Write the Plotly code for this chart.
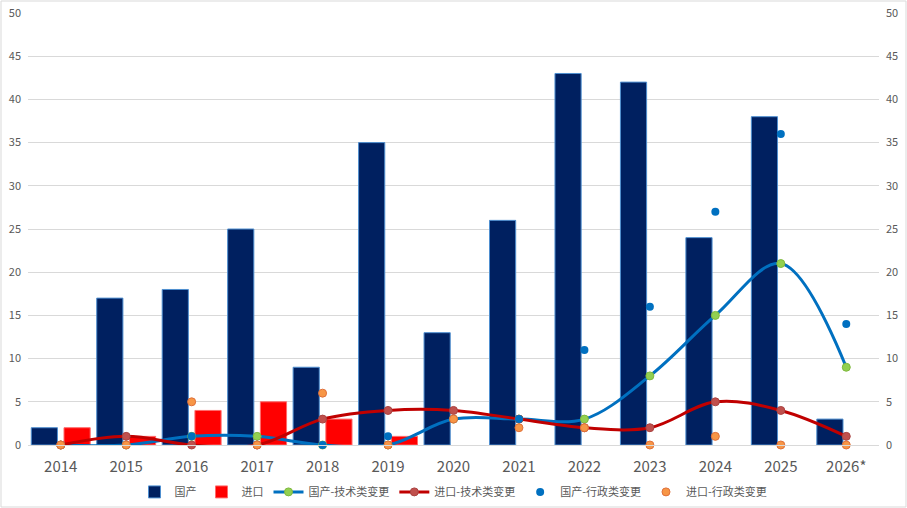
import plotly.graph_objects as go

years = ["2014", "2015", "2016", "2017", "2018", "2019", "2020",
         "2021", "2022", "2023", "2024", "2025", "2026*"]
domestic = [2, 17, 18, 25, 9, 35, 13, 26, 43, 42, 24, 38, 3]
imported = [2, 1, 4, 5, 3, 1, None, None, None, None, None, None, None]
dom_tech = [0, 0, 1, 1, 0, 0, 3, 3, 3, 8, 15, 21, 9]
imp_tech = [0, 1, 0, 0, 3, 4, 4, 3, 2, 2, 5, 4, 1]
dom_admin = [0, 0, 1, 0, 0, 1, 3, 3, 11, 16, 27, 36, 14]
imp_admin = [0, 0, 5, 0, 6, 0, 3, 2, 2, 0, 1, 0, 0]

W, H = 907, 508
L, R, T, B = 28, 28, 13, 63
font = "Noto Sans CJK SC, Noto Sans, sans-serif"
grey = "#595959"

fig = go.Figure()
fig.add_trace(go.Bar(x=years, y=domestic, name="国产",
                     marker=dict(color="#002060", line=dict(color="#4F8FD0", width=1))))
fig.add_trace(go.Bar(x=years, y=imported, name="进口",
                     marker=dict(color="#FF0000", line=dict(color="#FF6B6B", width=1))))
fig.add_trace(go.Scatter(x=years, y=dom_tech, name="国产-技术类变更", mode="lines+markers",
                         cliponaxis=False,
                         line=dict(color="#0070C0", width=3, shape="spline", smoothing=1),
                         marker=dict(color="#92D050", size=8, line=dict(color="#7FB83E", width=1))))
fig.add_trace(go.Scatter(x=years, y=imp_tech, name="进口-技术类变更", mode="lines+markers",
                         cliponaxis=False,
                         line=dict(color="#C00000", width=3, shape="spline", smoothing=1),
                         marker=dict(color="#C0504D", size=8, line=dict(color="#A94442", width=1))))
fig.add_trace(go.Scatter(x=years, y=dom_admin, name="国产-行政类变更", mode="markers",
                         cliponaxis=False, marker=dict(color="#0070C0", size=8)))
fig.add_trace(go.Scatter(x=years, y=imp_admin, name="进口-行政类变更", mode="markers",
                         cliponaxis=False,
                         marker=dict(color="#F79646", size=8, line=dict(color="#E0703A", width=1))))
# invisible trace to bring up the right-hand axis
fig.add_trace(go.Scatter(x=years, y=domestic, yaxis="y2", mode="markers",
                         marker=dict(opacity=0), showlegend=False, hoverinfo="skip"))

yax = dict(range=[0, 50], dtick=5, showgrid=True, gridcolor="#D9D9D9", gridwidth=1,
           zeroline=False, showline=False, ticks="", automargin=False,
           ticklabelstandoff=6,
           tickfont=dict(family=font, size=11, color=grey))
fig.update_layout(
    width=W, height=H,
    margin=dict(l=L, r=R, t=T, b=B, autoexpand=False),
    paper_bgcolor="white", plot_bgcolor="white",
    font=dict(family=font, color=grey),
    barmode="group", bargap=0, bargroupgap=0.2,
    xaxis=dict(type="category", range=[-0.5, 12.5], showgrid=False, showline=True,
               linecolor="#D9D9D9", linewidth=1, ticks="", automargin=False,
               ticklabelstandoff=8, tickfont=dict(family=font, size=15, color=grey)),
    yaxis=yax,
    yaxis2=dict(yax, overlaying="y", side="right", showgrid=False),
    legend=dict(orientation="h", x=0.5, xanchor="center", y=-0.075, yanchor="top",
                font=dict(family=font, size=11, color=grey), itemwidth=30,
                traceorder="normal"),
    showlegend=True,
)
fig.add_shape(type="rect", xref="paper", yref="paper",
              x0=-(L - 1) / (W - L - R), x1=1 + (R - 1) / (W - L - R),
              y0=-(B - 1) / (H - T - B), y1=1 + (T - 1) / (H - T - B),
              line=dict(color="#D9D9D9", width=1), layer="below")
fig.write_html("out.html", config={"displayModeBar": False},
               post_script="document.body.style.margin='0';")
